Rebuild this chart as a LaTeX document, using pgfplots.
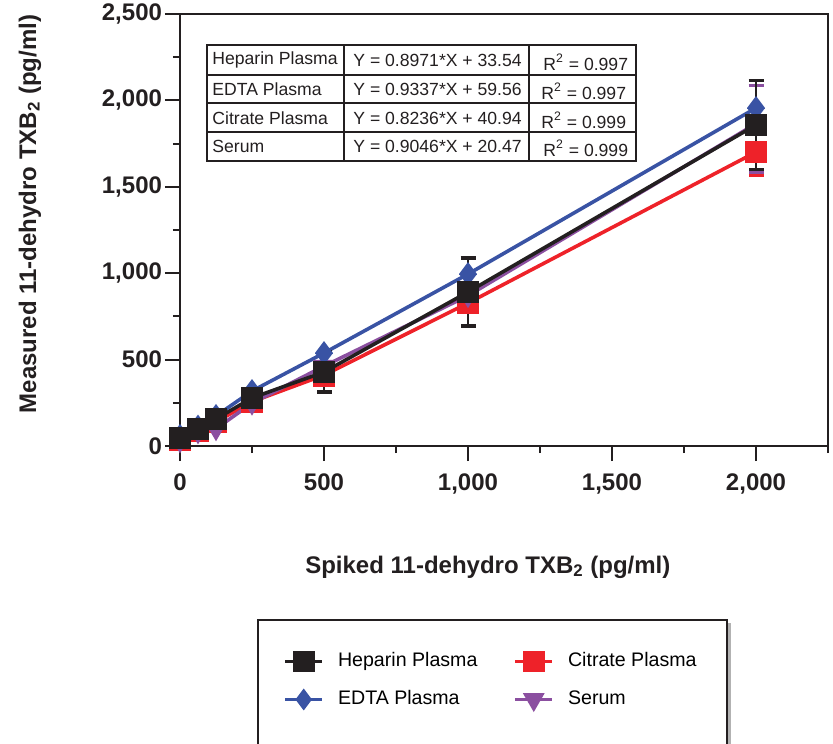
\documentclass[border=0pt]{standalone}
\usepackage{pgfplots}
\pgfplotsset{compat=1.18}
\usepackage{fontspec}
\setmainfont{Liberation Sans}
\definecolor{hepk}{HTML}{231F20}
\definecolor{edtab}{HTML}{3953A4}
\definecolor{citr}{HTML}{EE2229}
\definecolor{serp}{HTML}{8B4FA0}

\newcommand{\lblfont}{\fontsize{12bp}{14bp}\selectfont\bfseries}

\begin{document}
\begin{tikzpicture}
\begin{axis}[
  scale only axis, width=324bp, height=216bp,
  xmin=0, xmax=2250, ymin=0, ymax=2500,
  xtick={0,500,1000,1500,2000}, ytick={0,500,1000,1500,2000,2500},
  minor xtick={250,750,1250,1750,2250},
  minor ytick={250,750,1250,1750,2250},
  tick pos=left, tick align=outside,
  major tick length=7.5bp, minor tick length=3.5bp,
  axis line style={line width=1bp, hepk},
  every tick/.style={line width=1bp, hepk},
  scaled ticks=false,
  /pgf/number format/assume math mode=true,
  /pgf/number format/1000 sep={,},
  tick label style={font=\lblfont, text=hepk},
  xticklabel style={yshift=-3bp},
  yticklabel style={xshift=2bp},
  xlabel={Spiked 11-dehydro TXB\textsubscript{2} (pg/ml)},
  ylabel={Measured 11-dehydro TXB\textsubscript{2} (pg/ml)},
  label style={font=\lblfont, text=hepk},
  xlabel style={at={(axis description cs:0.475,-0.280)}, anchor=center},
  ylabel style={at={(axis description cs:-0.2315,0.537)}, anchor=center},
  clip=false,
  legend columns=2,
  legend cell align=left,
  legend style={at={(axis description cs:0.159,-0.477)}, anchor=north west,
    draw=none, fill=none, inner sep=0pt,
    font=\fontsize{9.8bp}{11bp}\selectfont,
    nodes={inner sep=0pt, text height=7bp, text depth=2bp},
    row sep=10bp,
    /tikz/every odd column/.style={column sep=7bp},
    /tikz/every even column/.style={column sep=18bp}},
  legend image code/.code={\draw[mark repeat=2,mark phase=2,#1]
    plot coordinates {(0bp,0bp) (9.25bp,0bp) (18.5bp,0bp)};},
  error bars/y dir=both, error bars/y explicit,
]
% legend entries (row-wise order)
\addlegendimage{hepk, line width=1.8bp, mark=square*, mark size=4.5bp, mark options={solid}}
\addlegendentry{Heparin Plasma}
\addlegendimage{citr, line width=1.8bp, mark=square*, mark size=4.5bp}
\addlegendentry{Citrate Plasma}
\addlegendimage{edtab, line width=1.8bp, mark=diamond*, mark size=4bp}
\addlegendentry{EDTA Plasma}
\addlegendimage{serp, line width=1.8bp, mark=triangle*, mark size=4.5bp, mark options={rotate=180}}
\addlegendentry{Serum}

% Citrate plasma
\addplot[citr, line width=1.8bp, mark=square*, mark size=4.8bp, forget plot,
  error bars/error bar style={line width=1.2bp, citr},
  error bars/error mark options={rotate=90, mark size=3.75bp, line width=1.5bp, citr}]
  coordinates {(0,35) +- (0,0) (62.5,92) +- (0,0) (125,140) +- (0,0)
    (250,256) +- (0,0) (500,410) +- (0,0) (1000,827) +- (0,0) (2000,1701) +- (0,133)};
% Serum
\addplot[serp, line width=1.8bp, mark=triangle*, mark size=4.5bp, mark options={rotate=180}, forget plot,
  error bars/error bar style={line width=1.2bp, serp},
  error bars/error mark options={rotate=90, mark size=3.75bp, line width=1.5bp, serp}]
  coordinates {(0,30) +- (0,0) (62.5,82) +- (0,0) (125,100) +- (0,0)
    (250,248) +- (0,0) (500,462) +- (0,0) (1000,870) +- (0,0) (2000,1865) += (0,224) -= (0,285)};
% EDTA plasma
\addplot[edtab, line width=1.8bp, mark=diamond*, mark size=4.5bp, forget plot]
  coordinates {(0,58) +- (0,0) (62.5,112) +- (0,0) (125,174) +- (0,0)
    (250,318) +- (0,0) (500,538) +- (0,0) (1000,995) +- (0,0) (2000,1956) +- (0,0)};
% Heparin plasma
\addplot[hepk, line width=1.8bp, mark=square*, mark size=4.7bp, forget plot,
  error bars/error bar style={line width=1.3bp, hepk},
  error bars/error mark options={rotate=90, mark size=3.75bp, line width=1.6bp, hepk}]
  coordinates {(0,46) +- (0,0) (62.5,98) +- (0,0) (125,156) +- (0,0)
    (250,278) +- (0,0) (500,428) +- (0,116) (1000,891) +- (0,197) (2000,1858) +- (0,258)};
\end{axis}

% regression table and legend frame, in reference pixel units
\begin{scope}[x=0.5bp, y=-0.5bp, shift={(-180,-446)}]
  \begin{scope}[line width=0.9bp, hepk]
    \draw[line width=1.2bp] (207,45) rectangle (636,161);
    \draw (207,75) -- (636,75) (207,103) -- (636,103) (207,132) -- (636,132);
    \draw (344,45) -- (344,161) (529,45) -- (529,161);
  \end{scope}
  \begin{scope}[every node/.style={anchor=west, inner sep=0pt, text=hepk,
      font=\fontsize{8.8bp}{10bp}\selectfont}]
    \node at (212,60) {Heparin Plasma};
    \node at (212,89) {EDTA Plasma};
    \node at (212,118) {Citrate Plasma};
    \node at (212,146) {Serum};
    \node at (353,60) {Y = 0.8971*X + 33.54};
    \node at (353,89) {Y = 0.9337*X + 59.56};
    \node at (353,118) {Y = 0.8236*X + 40.94};
    \node at (353,146) {Y = 0.9046*X + 20.47};
    \node at (543,62) {R\textsuperscript{2} = 0.997};
    \node at (541,91) {R\textsuperscript{2} = 0.997};
    \node at (541,120) {R\textsuperscript{2} = 0.999};
    \node at (543,148) {R\textsuperscript{2} = 0.999};
  \end{scope}
  \draw[line width=1.6bp, gray!60] (729.5,623) -- (729.5,780);
  \draw[line width=1bp, hepk] (258,780) -- (258,620) -- (727,620) -- (727,780);
  \pgfresetboundingbox
  \path[use as bounding box] (0,0) rectangle (833,744);
\end{scope}
\end{tikzpicture}
\end{document}
